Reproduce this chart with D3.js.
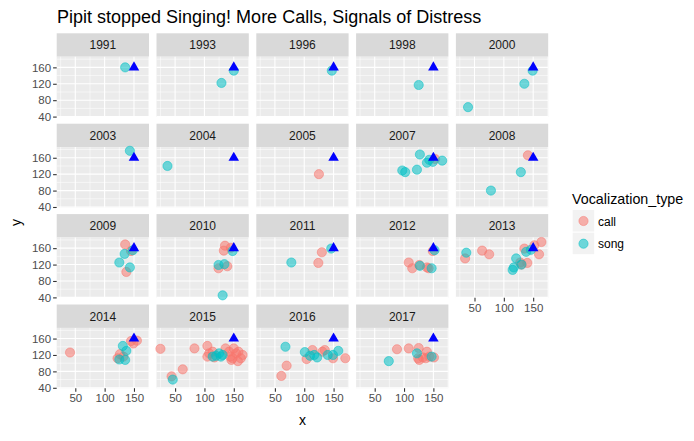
<!DOCTYPE html>
<html><head><meta charset="utf-8">
<script src="https://cdn.jsdelivr.net/npm/d3@7"></script>
<style>
body{margin:0;background:#fff;}
text{font-family:"Liberation Sans",Arial,sans-serif;}
</style></head>
<body><svg id="chart" width="694" height="441"></svg>
<script>
const years = [1991,1993,1996,1998,2000,2003,2004,2005,2007,2008,2009,2010,2011,2012,2013,2014,2015,2016,2017];
const seriesNames = ["call","song"];
const seriesColors = ["#F8766D","#00BFC4"];
const xTicks = [50,100,150];
const yTicks = [40,80,120,160];
const reference = [[150,160]];
// [year, x, y]
const callPoints = [
 [2005,125,120],
 [2007,153,157],
 [2008,141,166],
 [2009,135,169],[2009,145,153],[2009,137,102],
 [2010,135,166],[2010,133,154],[2010,145,161],[2010,124,111],[2010,139,116],
 [2011,124,124],[2011,130,150],
 [2012,108,125],[2012,114,111],[2012,126,119],[2012,139,113],[2012,142,111],[2012,149,153],
 [2013,34,135],[2013,63,154],[2013,75,145],[2013,135,159],[2013,152,167],[2013,164,175],[2013,160,145],[2013,130,120],[2013,140,124],[2013,128,125],
 [2014,41,126],[2014,126,122],[2014,122,112],[2014,132,116],[2014,145,154],[2014,149,148],[2014,155,155],
 [2015,25,135],[2015,44,68],[2015,63,85],[2015,83,136],[2015,105,142],[2015,114,128],[2015,105,116],[2015,117,114],[2015,136,136],[2015,142,128],[2015,148,112],[2015,154,124],[2015,157,105],[2015,165,120],[2015,158,128],[2015,146,108],[2015,108,124],[2015,150,136],[2015,162,112],[2015,144,116],
 [2016,70,94],[2016,61,69],[2016,104,110],[2016,114,132],[2016,131,128],[2016,135,132],[2016,149,112],[2016,170,112],
 [2017,88,134],[2017,108,136],[2017,125,137],[2017,139,128],[2017,126,108],[2017,132,114],[2017,137,112],[2017,143,116],[2017,151,114],[2017,124,112]
];
const songPoints = [
 [1991,135,160],
 [1993,129,122],[1993,150,152],
 [1996,147,152],
 [1998,125,117],
 [2000,39,63],[2000,135,120],[2000,149,152],
 [2003,143,177],
 [2004,37,140],
 [2007,127,168],[2007,97,129],[2007,102,125],[2007,122,131],[2007,139,148],[2007,149,150],[2007,165,153],[2007,143,155],
 [2008,129,125],[2008,78,80],
 [2009,134,146],[2009,125,125],[2009,143,113],[2009,148,155],
 [2010,148,153],[2010,124,119],[2010,134,121],[2010,131,45],
 [2011,78,125],[2011,146,159],
 [2012,127,117],[2012,147,111],[2012,152,155],
 [2013,36,149],[2013,146,156],[2013,138,151],[2013,121,135],[2013,117,113],[2013,115,107],[2013,130,120],
 [2014,131,142],[2014,137,130],[2014,125,109],[2014,135,108],
 [2015,46,60],[2015,125,124],[2015,128,116],[2015,120,118],[2015,114,116],[2015,131,120],
 [2016,68,140],[2016,101,127],[2016,117,120],[2016,122,114],[2016,140,120],[2016,158,130],[2016,149,120],[2016,110,118],
 [2017,74,105],[2017,122,124],[2017,147,116]
];

const svg = d3.select("#chart");
const ncol = 5;
const left0 = 56.7, colStep = 99.8, panelW = 92.3;
const top0 = 33.3, rowStep = 90.4, stripH = 23.4, panelH = 60.3;

const x = d3.scaleLinear().domain([18.3,175.6]).range([0,panelW]);
const y = d3.scaleLinear().domain([39,186]).range([panelH,0]);

svg.append("text").attr("x",57).attr("y",23).attr("font-size",18).attr("fill","#000")
  .text("Pipit stopped Singing! More Calls, Signals of Distress");

const xMinor = [25,75,125,175], yMinor = [60,100,140,180];

years.forEach((yr,i)=>{
  const c = i % ncol, r = Math.floor(i/ncol);
  const gx = left0 + c*colStep, gy = top0 + r*rowStep;
  const g = svg.append("g").attr("transform",`translate(${gx},${gy})`);
  g.append("rect").attr("width",panelW).attr("height",stripH).attr("fill","#D9D9D9");
  g.append("text").attr("x",panelW/2).attr("y",stripH/2+4.3).attr("text-anchor","middle")
    .attr("font-size",12).attr("fill","#1A1A1A").text(yr);
  const p = g.append("g").attr("transform",`translate(0,${stripH})`);
  p.append("rect").attr("width",panelW).attr("height",panelH).attr("fill","#EBEBEB");
  p.selectAll(".xmn").data(xMinor).join("line").attr("x1",d=>x(d)).attr("x2",d=>x(d))
    .attr("y1",0).attr("y2",panelH).attr("stroke","#fff").attr("stroke-width",0.55);
  p.selectAll(".ymn").data(yMinor).join("line").attr("y1",d=>y(d)).attr("y2",d=>y(d))
    .attr("x1",0).attr("x2",panelW).attr("stroke","#fff").attr("stroke-width",0.55);
  p.selectAll(".xmj").data(xTicks).join("line").attr("x1",d=>x(d)).attr("x2",d=>x(d))
    .attr("y1",0).attr("y2",panelH).attr("stroke","#fff").attr("stroke-width",1.1);
  p.selectAll(".ymj").data(yTicks).join("line").attr("y1",d=>y(d)).attr("y2",d=>y(d))
    .attr("x1",0).attr("x2",panelW).attr("stroke","#fff").attr("stroke-width",1.1);

  const pts = [];
  callPoints.filter(d=>d[0]===yr).forEach(d=>pts.push({s:0,x:d[1],y:d[2]}));
  songPoints.filter(d=>d[0]===yr).forEach(d=>pts.push({s:1,x:d[1],y:d[2]}));
  p.selectAll("circle.pt").data(pts).join("circle").attr("class","pt")
    .attr("cx",d=>x(d.x)).attr("cy",d=>y(d.y)).attr("r",4.6)
    .attr("fill",d=>seriesColors[d.s]).attr("fill-opacity",0.55)
    .attr("stroke",d=>seriesColors[d.s]).attr("stroke-opacity",0.5).attr("stroke-width",1);
  p.selectAll("path.ref").data(reference).join("path").attr("class","ref")
    .attr("d",d3.symbol(d3.symbolTriangle,48)())
    .attr("transform",d=>`translate(${x(d[0])},${y(d[1])})`).attr("fill","#0000FF");

  if (c===0){
    const ya = p.append("g").call(d3.axisLeft(y).tickValues(yTicks).tickSize(3.6).tickPadding(2));
    ya.select(".domain").remove();
    ya.selectAll("line").attr("stroke","#333333").attr("stroke-width",1.1);
    ya.selectAll("text").attr("font-size",11.5).attr("fill","#4D4D4D").attr("font-family","Liberation Sans, Arial, sans-serif");
  }
  if (i + ncol >= years.length){
    const xa = p.append("g").attr("transform",`translate(0,${panelH})`)
      .call(d3.axisBottom(x).tickValues(xTicks).tickSize(3.6).tickPadding(2));
    xa.select(".domain").remove();
    xa.selectAll("line").attr("stroke","#333333").attr("stroke-width",1.1);
    xa.selectAll("text").attr("font-size",11.5).attr("fill","#4D4D4D").attr("font-family","Liberation Sans, Arial, sans-serif");
  }
});

svg.append("text").attr("x",left0 + (4*colStep+panelW)/2).attr("y",425).attr("text-anchor","middle")
  .attr("font-size",14).attr("fill","#000").text("x");
svg.append("text").attr("transform",`translate(21,${(top0 + 3*rowStep + stripH + panelH + top0 + stripH)/2}) rotate(-90)`)
  .attr("text-anchor","middle").attr("font-size",14).attr("fill","#000").text("y");

const lg = svg.append("g").attr("transform","translate(572,0)");
lg.append("text").attr("x",0).attr("y",204).attr("font-size",14.3).attr("fill","#000").text("Vocalization_type");
seriesNames.forEach((n,k)=>{
  const ky = 210 + k*22.7;
  lg.append("rect").attr("x",0.7).attr("y",ky).attr("width",21.5).attr("height",21.5).attr("fill","#F2F2F2");
  lg.append("circle").attr("cx",11.5).attr("cy",ky+11).attr("r",4.6)
    .attr("fill",seriesColors[k]).attr("fill-opacity",0.55)
    .attr("stroke",seriesColors[k]).attr("stroke-opacity",0.5).attr("stroke-width",1);
  lg.append("text").attr("x",26).attr("y",ky+15.5).attr("font-size",12).attr("fill","#000").text(n);
});
</script></body></html>
